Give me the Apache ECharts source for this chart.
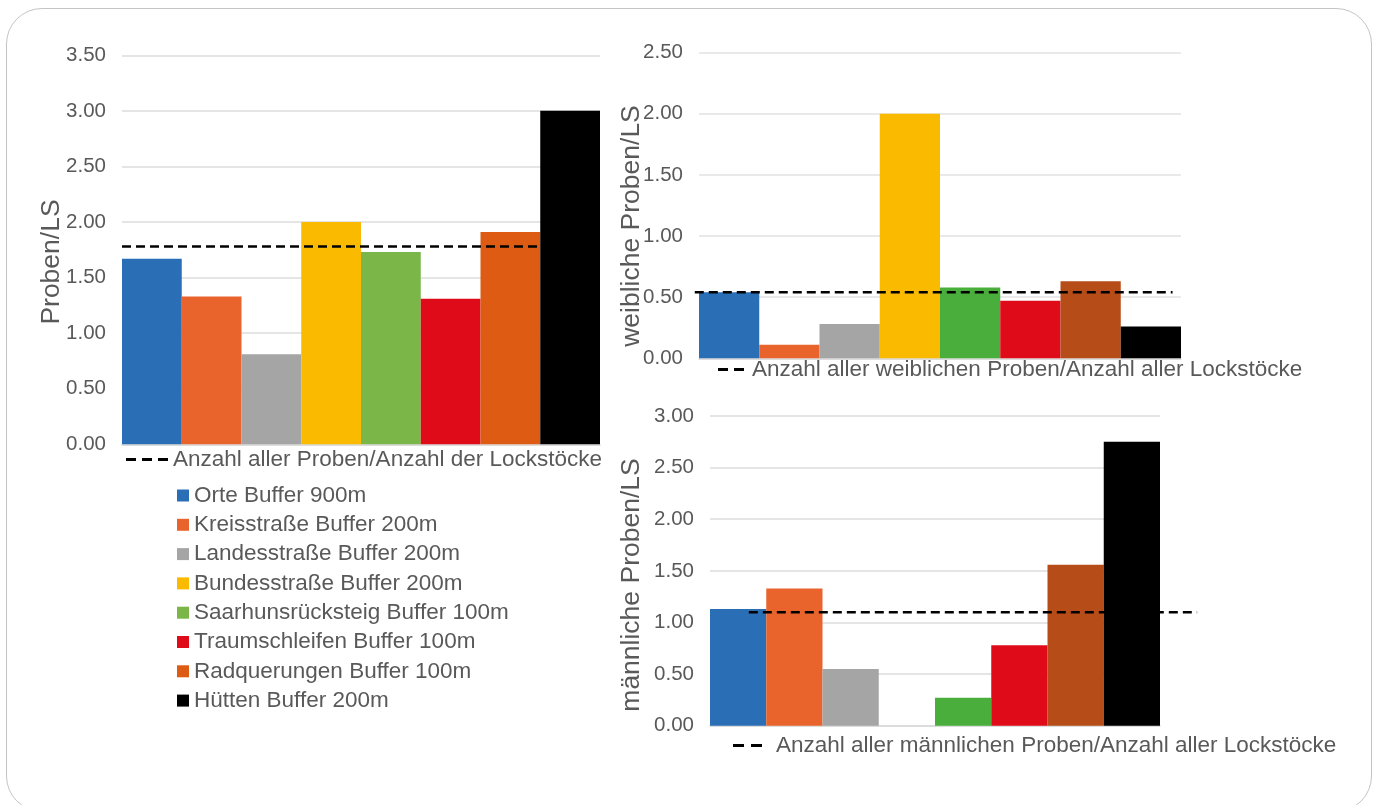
<!DOCTYPE html>
<html>
<head>
<meta charset="utf-8">
<script src="https://cdn.jsdelivr.net/npm/echarts@6/dist/echarts.min.js"></script>
<style>
  html, body { margin:0; padding:0; background:#fff; overflow:hidden; }
  #frame { position:absolute; left:6px; top:8px; width:1366px; height:804px; border:1.5px solid #c4c4c4; border-radius:36px; box-sizing:border-box; }
  #chart { position:absolute; left:0; top:0; width:1375px; height:805px; }
</style>
</head>
<body>
<div id="frame"></div>
<div id="chart"></div>
<script>
// ---- data ----
const categories = ['Orte Buffer 900m','Kreisstraße Buffer 200m','Landesstraße Buffer 200m','Bundesstraße Buffer 200m','Saarhunsrücksteig Buffer 100m','Traumschleifen Buffer 100m','Radquerungen Buffer 100m','Hütten Buffer 200m'];
const allValues    = [1.67, 1.33, 0.81, 2.00, 1.73, 1.31, 1.91, 3.00];
const femaleValues = [0.54, 0.11, 0.28, 2.00, 0.58, 0.47, 0.63, 0.26];
const maleValues   = [1.13, 1.33, 0.55, 0.00, 0.27, 0.78, 1.56, 2.75];
const allMean = 1.78, femaleMean = 0.54, maleMean = 1.10;
// extent of the drawn reference lines, in category units (0..8 = plot width)
const allRefSpan = [0, 8], femaleRefSpan = [-0.07, 7.86], maleRefSpan = [0.69, 8.66];
const yMax = [3.5, 2.5, 3.0];
const yTitles = ['Proben/LS', 'weibliche Proben/LS', 'männliche Proben/LS'];
const refNames = ['Anzahl aller Proben/Anzahl der Lockstöcke', 'Anzahl aller weiblichen Proben/Anzahl aller Lockstöcke', 'Anzahl aller männlichen Proben/Anzahl aller Lockstöcke'];
const colorsAll = ['#2A6EB6','#E9642C','#A5A5A5','#F9BA00','#7AB648','#E00B18','#DD5B12','#000000'];
const colorsSex = ['#2A6EB6','#E9642C','#A5A5A5','#F9BA00','#4AAE3C','#E00B18','#B64D18','#000000'];

const FONT = '"Liberation Sans", Arial, sans-serif';
const TXT = '#595959';

const grids = [
  {left:122, top:55.3, width:478, height:389},
  {left:699, top:52.7, width:482, height:305.6},
  {left:710, top:416, width:450, height:309.7}
];
const datasets = [allValues, femaleValues, maleValues];
const means = [allMean, femaleMean, maleMean];
const spans = [allRefSpan, femaleRefSpan, maleRefSpan];
const palettes = [colorsAll, colorsSex, colorsSex];

// overlay grids for the reference lines: same vertical extent, widened so lines may run past the plot
const EXT = 1.25;
const refGrids = grids.map(g => ({left:g.left - g.width*(EXT-1)/2, top:g.top, width:g.width*EXT, height:g.height}));

const xAxis = [], yAxis = [], series = [];
grids.forEach((g, i) => {
  xAxis.push({type:'category', gridIndex:i, data:[''], axisLine:{show:true, lineStyle:{color:'#d9d9d9', width:1.5}}, axisTick:{show:false}, axisLabel:{show:false}});
  yAxis.push({type:'value', gridIndex:i, min:0, max:yMax[i], interval:0.5,
    axisLine:{show:false}, axisTick:{show:false},
    axisLabel:{margin:16, fontSize:20.5, color:TXT, fontFamily:FONT, formatter:v => v.toFixed(2)},
    splitLine:{lineStyle:{color: i === 1 ? '#e2e2e2' : '#dcdcdc', width:1.5}}});
  categories.forEach((c, k) => {
    series.push({type:'bar', name:c, xAxisIndex:i, yAxisIndex:i, data:[datasets[i][k]],
      barGap:'0%', barCategoryGap:'0%', itemStyle:{color:palettes[i][k]}, z:2});
  });
});
refGrids.forEach((g, i) => {
  const ext = 8*(EXT-1)/2;
  xAxis.push({type:'value', gridIndex:3+i, min:-ext, max:8+ext, show:false});
  yAxis.push({type:'value', gridIndex:3+i, min:0, max:yMax[i], show:false});
  series.push({type:'line', name:refNames[i], xAxisIndex:3+i, yAxisIndex:3+i,
    data:[[spans[i][0], means[i]], [spans[i][1], means[i]]], symbol:'none',
    color:'#000', lineStyle:{color:'#000', width:2.5, type:[9,5]}, z:5});
});

const dash3 = 'path://M0,0h10v3h-10z M16,0h10v3h-10z M32,0h10v3h-10z';
const dash2a = 'path://M0,0h10v3h-10z M16,0h10v3h-10z';
const dash2b = 'path://M0,0h11v3h-11z M18,0h11v3h-11z';
const legendText = {fontSize:22.5, color:TXT, fontFamily:FONT, lineHeight:23};

const option = {
  animation:false,
  grid:grids.concat(refGrids),
  xAxis, yAxis, series,
  legend:[
    {orient:'vertical', left:172, top:479, itemWidth:12, itemHeight:12, itemGap:6.3, icon:'rect',
     data:categories, textStyle:legendText, selectedMode:false},
    {left:121, top:443, itemWidth:42, itemHeight:3, selectedMode:false,
     data:[{name:refNames[0], icon:dash3, itemStyle:{color:'#000'}}], textStyle:legendText},
    {left:713, top:353, itemWidth:26, itemHeight:3, selectedMode:false,
     data:[{name:refNames[1], icon:dash2a, itemStyle:{color:'#000'}}], textStyle:Object.assign({padding:[0,0,0,3]}, legendText)},
    {left:728, top:729, itemWidth:29, itemHeight:3, selectedMode:false,
     data:[{name:refNames[2], icon:dash2b, itemStyle:{color:'#000'}}], textStyle:Object.assign({padding:[0,0,0,9]}, legendText)}
  ],
  graphic:[
    {type:'text', x:52, y:262, rotation:Math.PI/2, style:{text:yTitles[0], fontSize:26.5, fontFamily:FONT, fill:TXT, align:'center', verticalAlign:'middle'}},
    {type:'text', x:632, y:226, rotation:Math.PI/2, style:{text:yTitles[1], fontSize:26.5, fontFamily:FONT, fill:TXT, align:'center', verticalAlign:'middle'}},
    {type:'text', x:632, y:585, rotation:Math.PI/2, style:{text:yTitles[2], fontSize:26.5, fontFamily:FONT, fill:TXT, align:'center', verticalAlign:'middle'}}
  ]
};
const chart = echarts.init(document.getElementById('chart'), null, {renderer:'canvas'});
chart.setOption(option);
</script>
</body>
</html>
